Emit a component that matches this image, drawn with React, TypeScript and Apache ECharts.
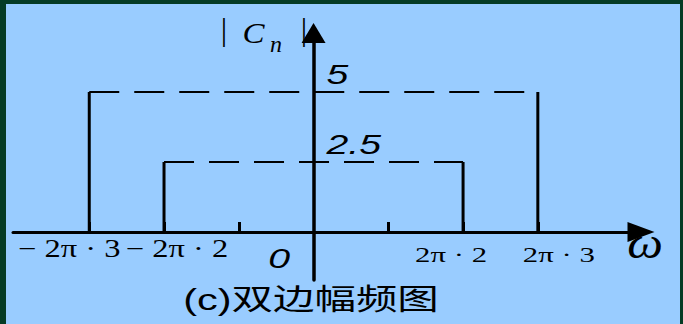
import { useEffect, useRef } from "react";
import * as echarts from "echarts";

// Spectral lines: harmonic index n (ω = 2π·n) and magnitude |C_n|
const harmonics = [-3, -2, 2, 3];
const magnitudes = [5, 2.5, 2.5, 5];

// Frequency-axis labels (positions in units of 2π)
const tickValues = [-3, -2, 0, 2, 3];
const tickLabels = ["\u2212 2\u03c0 \u00b7 3", "\u2212 2\u03c0 \u00b7 2", "0", "2\u03c0 \u00b7 2", "2\u03c0 \u00b7 3"];
const minorTicks = [-3, -2, -1, 1, 2, 3];

const xRange = [-4.02, 4.38];
const yRange = [-1.714, 7.107];

const SERIF = '"Liberation Serif", "Times New Roman", serif';
const SANS = '"Liberation Sans", Arial, sans-serif';

// Placement of each frequency label relative to its tick on the axis
const tickLabelLayout = [
  { dx: -20, dy: 16, font: `25px ${SERIF}`, scaleX: 1.3 },
  { dx: 13, dy: 16, font: `25px ${SERIF}`, scaleX: 1.3 },
  { dx: -34.5, dy: 26, font: `italic 28px ${SANS}`, scaleX: 1.4 },
  { dx: -12, dy: 23, font: `22px ${SERIF}`, scaleX: 1.4 },
  { dx: 21, dy: 23, font: `22px ${SERIF}`, scaleX: 1.4 },
];

export default function App() {
  const ref = useRef<HTMLDivElement>(null);

  useEffect(() => {
    const chart = echarts.init(ref.current!, null, { renderer: "svg" });

    const stemData = harmonics.map((k, i) => [k, magnitudes[i]]);
    const levelData = harmonics
      .map((k, i) => [k, magnitudes[i]])
      .filter((d) => d[0] > 0);
    const labelData = tickValues.map((v) => [v, 0]);

    chart.setOption({
      animation: false,
      backgroundColor: "transparent",
      tooltip: { show: false },
      grid: { left: 13, right: 42, top: 33, bottom: 44 },
      xAxis: {
        type: "value",
        min: xRange[0],
        max: xRange[1],
        axisLine: {
          onZero: true,
          symbol: ["none", "triangle"],
          symbolSize: [20, 27],
          lineStyle: { color: "#000", width: 3 },
        },
        axisTick: {
          show: true,
          inside: true,
          length: 10,
          customValues: minorTicks,
          lineStyle: { color: "#000", width: 3 },
        },
        axisLabel: { show: false },
        splitLine: { show: false },
      },
      yAxis: {
        type: "value",
        min: yRange[0],
        max: yRange[1],
        axisLine: {
          onZero: true,
          symbol: ["none", "triangle"],
          symbolSize: [24, 20],
          lineStyle: { color: "#000", width: 3.5 },
        },
        axisTick: { show: false },
        axisLabel: { show: false },
        splitLine: { show: false },
      },
      series: [
        {
          // vertical spectral lines
          type: "custom",
          silent: true,
          data: stemData,
          renderItem: (_params: any, api: any) => {
            const k = api.value(0);
            const m = api.value(1);
            const p0 = api.coord([k, 0]);
            const p1 = api.coord([k, m]);
            return {
              type: "line",
              shape: { x1: p0[0], y1: p0[1], x2: p1[0], y2: p1[1] },
              style: { stroke: "#000", lineWidth: 3 },
            };
          },
        },
        {
          // dashed magnitude levels joining ±n, with the magnitude value
          type: "custom",
          silent: true,
          data: levelData,
          renderItem: (_params: any, api: any) => {
            const k = api.value(0);
            const m = api.value(1);
            const a = api.coord([-k, m]);
            const b = api.coord([k, m]);
            const c = api.coord([0, m]);
            return {
              type: "group",
              children: [
                {
                  type: "line",
                  shape: { x1: a[0], y1: a[1], x2: b[0], y2: b[1] },
                  style: { stroke: "#000", lineWidth: 2, lineDash: [30, 15] },
                },
                {
                  type: "text",
                  x: c[0] + 13,
                  y: c[1] - 18,
                  scaleX: 1.4,
                  style: {
                    text: String(m),
                    font: `italic 28px ${SANS}`,
                    fill: "#000",
                    align: "left",
                    verticalAlign: "middle",
                  },
                },
              ],
            };
          },
        },
        {
          // frequency labels under the axis
          type: "custom",
          silent: true,
          data: labelData,
          renderItem: (params: any, api: any) => {
            const i = params.dataIndex;
            const p = api.coord([api.value(0), 0]);
            const lay = tickLabelLayout[i];
            return {
              type: "text",
              x: p[0] + lay.dx,
              y: p[1] + lay.dy,
              scaleX: lay.scaleX,
              style: {
                text: tickLabels[i],
                font: lay.font,
                fill: "#000",
                align: "center",
                verticalAlign: "middle",
              },
            };
          },
        },
      ],
      graphic: [
        {
          type: "text",
          x: 224,
          y: 29,
          style: { text: "|", font: `32px ${SERIF}`, fill: "#000", align: "center", verticalAlign: "middle", textAlign: "center", textVerticalAlign: "middle" },
        },
        {
          type: "text",
          x: 253.5,
          y: 33,
          scaleX: 1.1,
          style: { text: "C", font: `italic 30px ${SERIF}`, fill: "#000", align: "center", verticalAlign: "middle", textAlign: "center", textVerticalAlign: "middle" },
        },
        {
          type: "text",
          x: 276,
          y: 44,
          style: { text: "n", font: `italic 24px ${SERIF}`, fill: "#000", align: "center", verticalAlign: "middle", textAlign: "center", textVerticalAlign: "middle" },
        },
        {
          type: "text",
          x: 304,
          y: 29,
          style: { text: "|", font: `32px ${SERIF}`, fill: "#000", align: "center", verticalAlign: "middle", textAlign: "center", textVerticalAlign: "middle" },
        },
        {
          type: "text",
          x: 645,
          y: 243,
          scaleX: 1.15,
          style: { text: "\u03c9", font: `italic 44px ${SERIF}`, fill: "#000", align: "center", verticalAlign: "middle", textAlign: "center", textVerticalAlign: "middle" },
        },
        {
          type: "text",
          x: 311,
          y: 300,
          scaleX: 1.43,
          style: {
            text: "(c)双边幅频图",
            font: `29px "Liberation Sans", "Noto Sans CJK SC", sans-serif`,
            fill: "#000",
            align: "center",
            verticalAlign: "middle",
            textAlign: "center",
            textVerticalAlign: "middle",
          },
        },
      ],
    });

    return () => chart.dispose();
  }, []);

  return (
    <div style={{ position: "fixed", left: 0, top: 0, width: 683, height: 324, background: "#053b25" }}>
      <div style={{ position: "absolute", left: 6, top: 4, width: 674, height: 320, background: "#99ccff" }} />
      <div ref={ref} style={{ position: "absolute", left: 0, top: 0, width: 683, height: 324 }} />
    </div>
  );
}
